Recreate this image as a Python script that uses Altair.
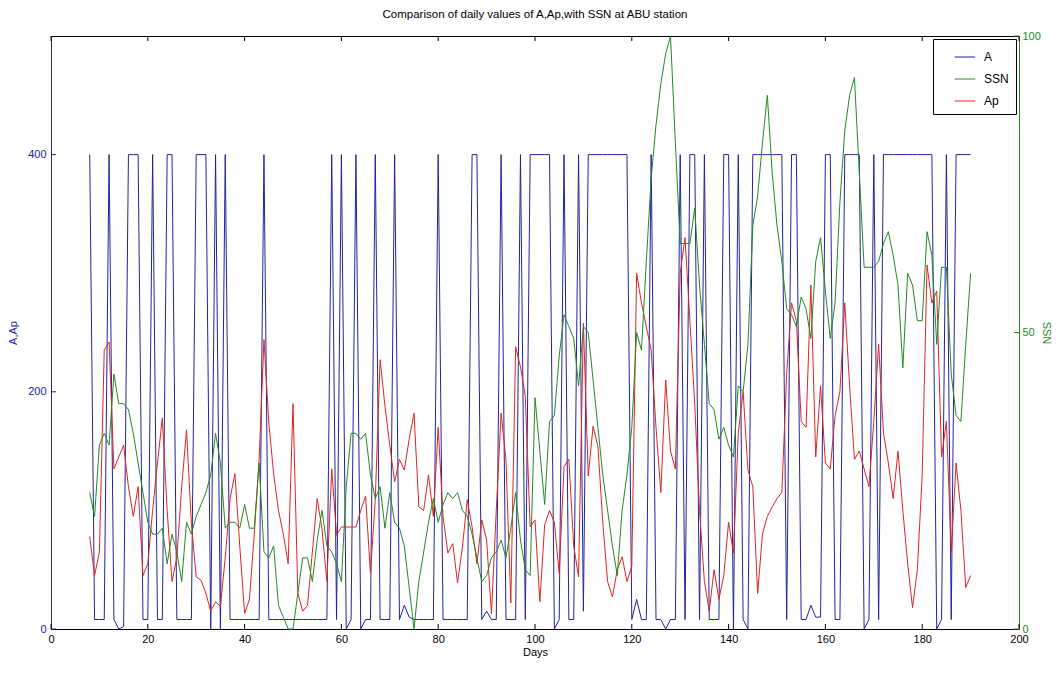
import altair as alt
import pandas as pd

# ---------------- data ----------------
days = list(range(8, 191))

A_vals = [
    400, 8, 8, 8, 400, 8, 0, 2, 400, 400,          # 8-17
    400, 8, 8, 400, 8, 8, 400, 400, 8, 8,          # 18-27
    8, 8, 400, 400, 400, 0, 400, 0, 400, 8,        # 28-37
    8, 8, 8, 8, 8, 8, 400, 8, 8, 8,                # 38-47
    8, 8, 8, 8, 8, 8, 8, 8, 8, 8,                  # 48-57
    400, 8, 400, 0, 8, 400, 0, 8, 8, 400,          # 58-67
    8, 8, 8, 400, 8, 20, 10, 8, 8, 8,              # 68-77
    8, 8, 400, 8, 8, 8, 8, 8, 8, 400,              # 78-87
    400, 8, 15, 8, 8, 400, 8, 8, 8, 400,           # 88-97
    8, 400, 400, 400, 400, 400, 0, 8, 400, 8,      # 98-107
    8, 400, 15, 400, 400, 400, 400, 400, 400, 400, # 108-117
    400, 400, 8, 25, 8, 8, 400, 8, 8, 0,           # 118-127
    8, 8, 400, 8, 400, 400, 8, 400, 8, 8,          # 128-137
    8, 400, 400, 0, 400, 8, 0, 400, 400, 400,      # 138-147
    400, 400, 400, 400, 8, 400, 400, 8, 8, 20,     # 148-157
    10, 10, 400, 400, 8, 8, 400, 400, 400, 400,    # 158-167
    0, 8, 400, 8, 400, 400, 400, 400, 400, 400,    # 168-177
    400, 400, 400, 400, 400, 0, 8, 400, 8, 400,    # 178-187
    400, 400, 400,                                 # 188-190
]

Ap_vals = [
    78, 45, 65, 235, 242, 135, 145, 155, 120, 95,
    120, 45, 55, 100, 140, 178, 100, 40, 60, 120,
    168, 89, 44, 41, 30, 15, 23, 19, 60, 110,
    131, 70, 13, 25, 80, 143, 244, 174, 131, 100,
    80, 55, 190, 30, 15, 20, 65, 110, 84, 40,
    135, 79, 86, 86, 86, 86, 100, 112, 47, 109,
    227, 188, 155, 124, 143, 134, 160, 182, 103, 100,
    130, 95, 170, 95, 64, 72, 39, 69, 109, 86,
    55, 92, 75, 13, 100, 182, 143, 22, 238, 221,
    196, 86, 92, 23, 88, 100, 90, 47, 137, 143,
    70, 44, 258, 129, 171, 154, 90, 40, 27, 50,
    61, 40, 53, 300, 275, 255, 235, 170, 115, 210,
    150, 135, 300, 330, 260, 190, 100, 40, 15, 50,
    25, 45, 90, 64, 165, 200, 134, 120, 30, 80,
    95, 103, 110, 115, 215, 275, 260, 175, 170, 290,
    145, 205, 140, 135, 180, 200, 275, 205, 143, 150,
    135, 120, 175, 240, 165, 140, 110, 150, 100, 55,
    18, 50, 130, 307, 275, 285, 145, 175, 65, 140,
    100, 35, 45,
]

SSN_vals = [
    23, 19, 31, 33, 31, 43, 38, 38, 37, 33,
    28, 23, 18, 16, 16, 17, 11, 16, 13, 8,
    18, 16, 19, 21, 23, 26, 33, 28, 17, 18,
    18, 17, 21, 17, 17, 28, 13, 12, 14, 4,
    2, 0, 0, 6, 12, 12, 8, 15, 20, 14,
    13, 11, 8, 24, 33, 33, 32, 33, 26, 22,
    24, 17, 23, 18, 17, 14, 7, 0, 8, 13,
    18, 22, 18, 21, 23, 22, 23, 20, 19, 16,
    12, 8, 9, 12, 13, 15, 12, 17, 23, 15,
    10, 9, 39, 30, 21, 35, 36, 46, 53, 51,
    49, 41, 51, 50, 42, 34, 26, 20, 14, 9,
    20, 26, 34, 50, 47, 62, 76, 85, 92, 97,
    100, 82, 65, 65, 65, 71, 58, 48, 38, 37,
    32, 34, 31, 29, 41, 40, 48, 68, 73, 82,
    90, 77, 68, 62, 54, 53, 51, 56, 54, 49,
    62, 66, 57, 49, 55, 72, 84, 90, 93, 77,
    61, 61, 61, 62, 65, 67, 63, 58, 44, 60,
    58, 52, 52, 67, 63, 48, 61, 61, 43, 36,
    35, 48, 60,
]

x_ticks = [0, 20, 40, 60, 80, 100, 120, 140, 160, 180, 200]
left_ticks = [0, 200, 400]
right_ticks = [0, 50, 100]

series_order = ["A", "SSN", "Ap"]
BLUE = "#22229c"
GREEN = "#238a23"
RED = "#e02424"
series_colors = [BLUE, GREEN, RED]

title_text = "Comparison of daily values of A,Ap,with SSN at ABU station"

# ---------------- tables ----------------
n = len(days)
left_df = pd.DataFrame({
    "day": days + days,
    "value": A_vals + Ap_vals,
    "series": ["A"] * n + ["Ap"] * n,
})
right_df = pd.DataFrame({"day": days, "value": SSN_vals, "series": ["SSN"] * n})
xt_df = pd.DataFrame({"day": x_ticks})
lt_df = pd.DataFrame({"value": left_ticks})
rt_df = pd.DataFrame({"value": right_ticks})

W, H = 968, 593
FONT = "Liberation Sans"

x_scale = alt.Scale(domain=[0, 200], nice=False, zero=False)
yl_scale = alt.Scale(domain=[0, 500], nice=False)
yr_scale = alt.Scale(domain=[0, 100], nice=False)

color = alt.Color(
    "series:N",
    scale=alt.Scale(domain=series_order, range=series_colors),
    legend=alt.Legend(
        title=None, orient="top-right", offset=3,
        strokeColor="black", fillColor="white", padding=7,
        symbolType="stroke", symbolSize=420, symbolStrokeWidth=1,
        labelFontSize=12, labelFont=FONT, labelColor="black",
        rowPadding=5, labelOffset=8, symbolOffset=14,
    ),
)

x_axis = alt.Axis(
    values=x_ticks, title="Days", ticks=False, grid=False,
    domainColor="black", labelColor="black", titleColor="black",
    labelPadding=4, titlePadding=2, labelFlush=False,
)
yl_axis = alt.Axis(
    values=left_ticks, title="A,Ap", ticks=False, grid=False,
    domainColor=BLUE, labelColor=BLUE, titleColor=BLUE,
    labelPadding=5, titlePadding=9,
)
yr_axis = alt.Axis(
    orient="right", values=right_ticks, title="SSN", ticks=False, grid=False,
    domainColor=GREEN, labelColor=GREEN, titleColor=GREEN,
    labelPadding=3, titlePadding=0,
)

X = alt.X("day:Q", scale=x_scale, axis=x_axis)
YL = alt.Y("value:Q", scale=yl_scale, axis=yl_axis)
YR = alt.Y("value:Q", scale=yr_scale, axis=yr_axis)

left_lines = alt.Chart(left_df).mark_line(strokeWidth=1).encode(
    x=X, y=YL, color=color,
)
left_tick_marks = alt.Chart(lt_df).mark_rule(color=BLUE, strokeWidth=1).encode(
    y=YL, x=alt.value(0), x2=alt.value(5),
)
top_ticks = alt.Chart(xt_df).mark_rule(color="black", strokeWidth=1).encode(
    x=X, y=alt.value(0), y2=alt.value(5),
)
bottom_ticks = alt.Chart(xt_df).mark_rule(color="black", strokeWidth=1).encode(
    x=X, y=alt.value(H - 5), y2=alt.value(H),
)

right_line = alt.Chart(right_df).mark_line(strokeWidth=1).encode(
    x=X, y=YR, color=color,
)
right_tick_marks = alt.Chart(rt_df).mark_rule(color=GREEN, strokeWidth=1).encode(
    y=YR, x=alt.value(W - 5), x2=alt.value(W),
)

left_layer = alt.layer(left_lines, left_tick_marks, top_ticks, bottom_ticks)
right_layer = alt.layer(right_line, right_tick_marks)

chart = alt.layer(left_layer, right_layer).resolve_scale(
    y="independent"
).properties(
    width=W, height=H,
    title=alt.TitleParams(
        text=title_text, fontSize=11.5, fontWeight="normal", font=FONT,
        color="black", anchor="middle", offset=10,
    ),
    padding={"left": 43, "top": 28, "right": 34, "bottom": 29},
    autosize=alt.AutoSizeParams(type="none"),
    background="white",
).configure_view(
    stroke="black", strokeWidth=1,
).configure_axis(
    labelFont=FONT, labelFontSize=11, titleFont=FONT, titleFontSize=11,
    titleFontWeight="normal",
)

chart.save("out.html", embed_options={"renderer": "svg", "actions": False})
